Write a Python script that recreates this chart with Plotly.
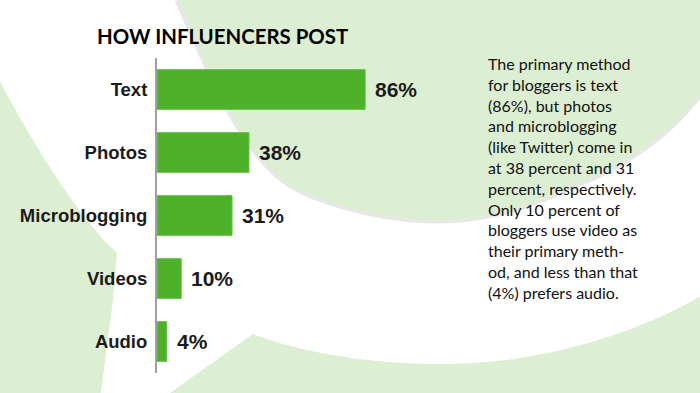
import plotly.graph_objects as go

# ---- data ----
categories = ["Text", "Photos", "Microblogging", "Videos", "Audio"]
values = [86, 38, 31, 10, 4]
value_labels = ["86%", "38%", "31%", "10%", "4%"]
title_text = "HOW INFLUENCERS POST"
paragraph_lines = [
    "The primary method",
    "for bloggers is text",
    "(86%), but photos",
    "and microblogging",
    "(like Twitter) come in",
    "at 38 percent and 31",
    "percent, respectively.",
    "Only 10 percent of",
    "bloggers use video as",
    "their primary meth-",
    "od, and less than that",
    "(4%) prefers audio.",
]

W, H = 700, 393
ML, MR, MT, MB = 157, 301, 58, 20
PW, PH = W - ML - MR, H - MT - MB

BAR = "#4eb12a"
BG_GREEN = "#ddefd3"
TXT = "#1b1b1b"


def P(x, y):
    return f"{(x - ML) / PW:.4f},{1 - (y - MT) / PH:.4f}"


def path(cmds):
    out = []
    for c in cmds:
        if c[0] in ("M", "L"):
            out.append(f"{c[0]} {P(*c[1])}")
        elif c[0] == "C":
            out.append("C " + " ".join(P(*p) for p in c[1:]))
        elif c[0] == "Z":
            out.append("Z")
    return " ".join(out)


edge = [
    ("C", (205, 60), (235, 140), (280, 177)),
    ("C", (305, 198), (370, 218), (430, 220)),
    ("C", (490, 221), (530, 205), (570, 187)),
    ("C", (620, 168), (672, 135), (706, 85)),
]
big = path([("M", (176, -5)), ("L", (178, 0))] + edge + [("L", (706, -5)), ("Z",)])
rim = path([("M", (178, 0))] + edge)
left = path([
    ("M", (-5, 72)),
    ("C", (30, 140), (80, 220), (117, 253)),
    ("L", (113, 300)),
    ("L", (100, 400)),
    ("L", (-5, 400)),
    ("Z",),
])
bottom = path([
    ("M", (160, 400)),
    ("L", (253, 334)),
    ("C", (320, 360), (430, 372), (520, 358)),
    ("C", (600, 345), (660, 320), (706, 293)),
    ("L", (706, 400)),
    ("Z",),
])

shapes = [
    dict(type="path", xref="paper", yref="paper", path=rim,
         line=dict(color="rgba(200,203,200,0.45)", width=7), layer="below"),
    dict(type="path", xref="paper", yref="paper", path=big, fillcolor=BG_GREEN,
         line=dict(width=0), layer="below"),
    dict(type="path", xref="paper", yref="paper", path=left, fillcolor=BG_GREEN,
         line=dict(width=0), layer="below"),
    dict(type="path", xref="paper", yref="paper", path=bottom, fillcolor=BG_GREEN,
         line=dict(width=0), layer="below"),
]

fig = go.Figure(go.Bar(
    x=values, y=categories, orientation="h", width=0.63,
    marker=dict(color=BAR, line=dict(color="#62bd45", width=1)),
    hoverinfo="skip",
))

annotations = []
for c, v, t in zip(categories, values, value_labels):
    annotations.append(dict(
        x=v, y=c, xref="x", yref="y", text=t, showarrow=False,
        xanchor="left", yanchor="middle", xshift=8,
        font=dict(family="Liberation Sans", size=21, color=TXT, weight="bold"),
    ))

annotations.append(dict(
    x=(486 - ML) / PW, y=1 - (52 - MT) / PH, xref="paper", yref="paper",
    xanchor="left", yanchor="top", align="left", showarrow=False,
    text="<br>".join(paragraph_lines),
    font=dict(family="Lato", size=16, color="#111111"),
))

fig.update_layout(
    width=W, height=H,
    margin=dict(l=ML, r=MR, t=MT, b=MB, autoexpand=False),
    paper_bgcolor="white", plot_bgcolor="rgba(0,0,0,0)",
    showlegend=False,
    shapes=shapes,
    annotations=annotations,
    title=dict(text=f"<b>{title_text}</b>", xref="container", yref="container",
               x=97 / W, y=1 - 37 / H, xanchor="left", yanchor="middle",
               font=dict(family="Lato", size=20.4, color="#000000")),
    xaxis=dict(range=[0, 100], visible=False, fixedrange=True),
    yaxis=dict(categoryorder="array", categoryarray=categories, range=[4.5, -0.5],
               showline=True, linecolor="#a0a0a0", linewidth=2, showgrid=False,
               zeroline=False, ticks="outside", ticklen=4, tickcolor="rgba(0,0,0,0)",
               tickfont=dict(family="Liberation Sans", size=18.5, color=TXT, weight="bold"),
               fixedrange=True),
)

fig.write_html(
    "out.html",
    config={"displayModeBar": False},
    post_script="document.body.style.margin='0';document.body.style.overflow='hidden';",
)
